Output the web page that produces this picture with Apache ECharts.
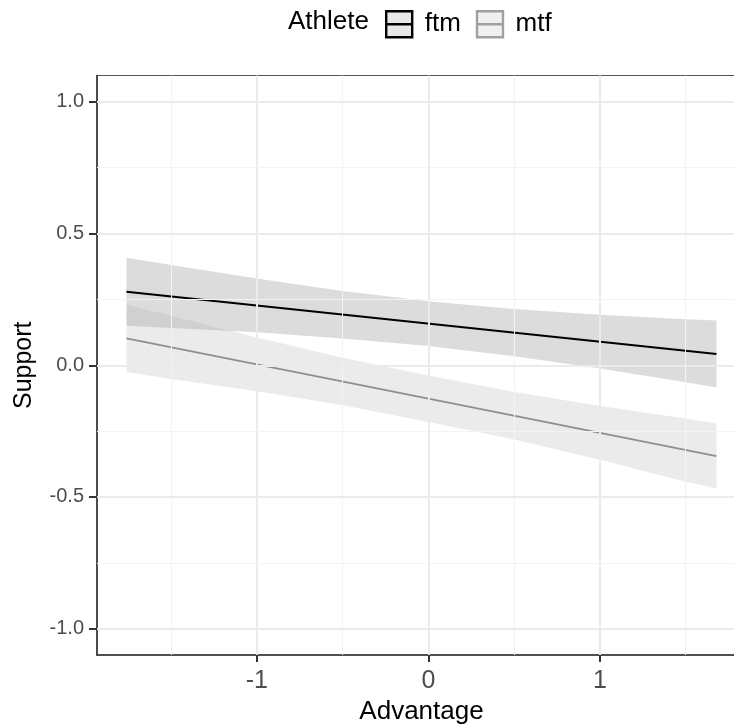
<!DOCTYPE html>
<html>
<head>
<meta charset="utf-8">
<script src="https://cdn.jsdelivr.net/npm/echarts@6/dist/echarts.min.js"></script>
<style>
html,body{margin:0;padding:0;background:#fff;}
#chart{width:734px;height:725px;}
</style>
</head>
<body>
<div id="chart"></div>
<script>
// ---- data ----
const athletes = ['ftm', 'mtf'];
const xTickValues = [-1, 0, 1];
const xMinorValues = [-1.5, -0.5, 0.5, 1.5];
const yTickValues = [-1.0, -0.5, 0.0, 0.5, 1.0];
const yMinorValues = [-0.75, -0.25, 0.25, 0.75];

const fitX = [-1.76, 1.68];
const ftmFit = [0.279, 0.043];
const mtfFit = [0.102, -0.345];

const bandX    = [-1.76, -1.5, -1.0, -0.5, 0.0, 0.5, 1.0, 1.5, 1.68];
const ftmUpper = [0.408, 0.381, 0.329, 0.282, 0.243, 0.214, 0.192, 0.175, 0.170];
const ftmLower = [0.150, 0.141, 0.125, 0.102, 0.073, 0.034, -0.012, -0.065, -0.084];
const mtfUpper = [0.230, 0.188, 0.105, 0.028, -0.039, -0.102, -0.155, -0.202, -0.222];
const mtfLower = [-0.026, -0.052, -0.099, -0.152, -0.215, -0.282, -0.359, -0.442, -0.467];

// ---- chart ----
const chart = echarts.init(document.getElementById('chart'), null, {renderer: 'canvas'});
const FONT = '"Liberation Sans", Arial, Helvetica, sans-serif';

function pairs(xs, ys) { return xs.map((x, i) => [x, ys[i]]); }

function bandSeries(name, upper, lower, fill, z) {
  return {
    type: 'custom',
    name: name,
    silent: true,
    z: z,
    clip: true,
    data: [[bandX[0], upper[0]]],
    renderItem: function (params, api) {
      const pts = [];
      for (let i = 0; i < bandX.length; i++) pts.push(api.coord([bandX[i], upper[i]]));
      for (let i = bandX.length - 1; i >= 0; i--) pts.push(api.coord([bandX[i], lower[i]]));
      return {type: 'polygon', shape: {points: pts}, style: {fill: fill}};
    }
  };
}

const gridLines = [];
xTickValues.forEach(v => gridLines.push({xAxis: v, lineStyle: {color: '#ebebeb', width: 2, type: 'solid'}}));
xMinorValues.forEach(v => gridLines.push({xAxis: v, lineStyle: {color: '#f3f3f3', width: 1, type: 'solid'}}));
yTickValues.forEach(v => gridLines.push({yAxis: v, lineStyle: {color: '#ebebeb', width: 2, type: 'solid'}}));
yMinorValues.forEach(v => gridLines.push({yAxis: v, lineStyle: {color: '#f3f3f3', width: 1, type: 'solid'}}));

const keyIcon = 'path://M0,0 L16,0 L16,16 L0,16 Z M0,8 L16,8';

const option = {
  animation: false,
  backgroundColor: '#ffffff',
  textStyle: {fontFamily: FONT},
  title: {
    text: 'Athlete',
    left: 288, top: 9, padding: 0,
    textStyle: {fontFamily: FONT, fontSize: 26, fontWeight: 'normal', color: '#000'}
  },
  legend: {
    left: 385, top: 10, padding: 0,
    itemWidth: 27, itemHeight: 26, itemGap: 15,
    selectedMode: false,
    textStyle: {fontFamily: FONT, fontSize: 26, color: '#000', padding: [0, 0, 0, 7]},
    data: [
      {name: athletes[0], icon: keyIcon, itemStyle: {color: '#e8e8e8', borderColor: '#000000', borderWidth: 2.4}},
      {name: athletes[1], icon: keyIcon, itemStyle: {color: '#f0f0f0', borderColor: '#a0a0a0', borderWidth: 2.4}}
    ]
  },
  grid: {
    left: 97, top: 75.5, width: 649, height: 579.5,
    outerBoundsMode: 'none',
    containLabel: false,
    show: true, borderColor: '#555', borderWidth: 1.2, backgroundColor: 'transparent'
  },
  xAxis: {
    type: 'value', min: -1.932, max: 1.852,
    name: 'Advantage', nameLocation: 'middle', nameGap: 44,
    nameTextStyle: {fontFamily: FONT, fontSize: 26, color: '#000'},
    axisLine: {show: true, onZero: false, lineStyle: {color: '#333', width: 1.5}},
    axisTick: {show: true, customValues: xTickValues, length: 7, lineStyle: {color: '#333', width: 2}},
    axisLabel: {customValues: xTickValues, fontFamily: FONT, fontSize: 25, color: '#4d4d4d', margin: 14,
      formatter: v => String(v)},
    splitLine: {show: false}
  },
  yAxis: {
    type: 'value', min: -1.1, max: 1.1,
    name: 'Support', nameLocation: 'middle', nameGap: 60, nameRotate: 90,
    nameTextStyle: {fontFamily: FONT, fontSize: 25, color: '#000'},
    axisLine: {show: true, onZero: false, lineStyle: {color: '#333', width: 1.5}},
    axisTick: {show: true, customValues: yTickValues, length: 8, lineStyle: {color: '#333', width: 2}},
    axisLabel: {customValues: yTickValues, fontFamily: FONT, fontSize: 20, color: '#4d4d4d', margin: 13,
      formatter: v => v.toFixed(1)},
    splitLine: {show: false}
  },
  series: [
    {
      type: 'line', name: 'grid', silent: true, z: 0, data: [],
      markLine: {silent: true, symbol: 'none', label: {show: false}, animation: false, data: gridLines}
    },
    bandSeries('mtf band', mtfUpper, mtfLower, 'rgba(205,205,205,0.4)', 1),
    bandSeries('ftm band', ftmUpper, ftmLower, 'rgba(168,168,168,0.4)', 2),
    {
      type: 'line', name: athletes[1], z: 3, symbol: 'none', silent: true,
      data: pairs(fitX, mtfFit),
      lineStyle: {color: '#8f8f8f', width: 2},
      itemStyle: {color: '#8f8f8f'}
    },
    {
      type: 'line', name: athletes[0], z: 4, symbol: 'none', silent: true,
      data: pairs(fitX, ftmFit),
      lineStyle: {color: '#000000', width: 2},
      itemStyle: {color: '#000000'}
    }
  ]
};
chart.setOption(option);
</script>
</body>
</html>
